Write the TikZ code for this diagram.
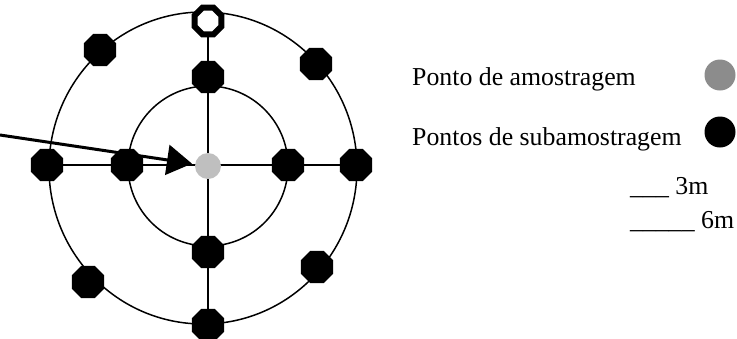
\documentclass[tikz,border=0pt]{standalone}
\usepackage{fontspec}
\setmainfont{Liberation Serif}
\usetikzlibrary{shapes.geometric,arrows.meta,backgrounds}
\begin{document}
\begin{tikzpicture}[x=1pt,y=-1pt,
  sub/.style={regular polygon,regular polygon sides=8,fill=black,minimum size=35pt,inner sep=0pt},
  ring/.style={regular polygon,regular polygon sides=8,fill=white,draw=black,line width=6pt,minimum size=29pt,inner sep=0pt},
  center/.style={circle,fill=black!25,minimum size=26pt,inner sep=0pt},
  axis/.style={line width=1.5pt},
  lbl/.style={anchor=base west,inner sep=0pt,font=\fontsize{25.8}{30}\selectfont},
  legdot/.style={circle,minimum size=31pt,inner sep=0pt}]
\useasboundingbox (0,0) rectangle (737,338);
% circles
\draw[axis] (203,168) ellipse [x radius=154, y radius=156];
\draw[axis] (208,166) circle [radius=80];
% nodes
\node[center] (c) at (208,166) {};
\node[sub] (it) at (208,77) {};
\node[sub] (ib) at (208,252) {};
\node[sub] (il) at (127,165) {};
\node[sub] (ir) at (288,165) {};
\node[sub] (ol) at (47,165) {};
\node[sub] (or) at (356,165) {};
\node[sub] (ob) at (208,325) {};
\node[ring] (ot) at (208,21) {};
\node[sub] (ul) at (100,50) {};
\node[sub] (ur) at (316,64) {};
\node[sub] (ll) at (88,282) {};
\node[sub] (lr) at (317,267) {};
\begin{scope}[on background layer]
\draw[axis] (ol) -- (il) -- (ir) -- (or);
\draw[axis] (ot) -- (it) -- (ib) -- (ob);
\end{scope}
% arrow
\coordinate (a0) at (0,135);
\draw[line width=3pt,-{Triangle[length=25pt,width=30pt]},shorten >=3pt] (a0) -- (c);
% legend
\node[lbl] (t1) at (412,85) {Ponto de amostragem};
\node[lbl] (t2) at (412,145) {Pontos de subamostragem};
\node[lbl] (t3) at (630,194) {\_\_\_ 3m};
\node[lbl] (t4) at (630,228) {\_\_\_\_\_ 6m};
\node[legdot,fill=black!45] (g1) at (720,75) {};
\node[legdot,fill=black] (g2) at (720,132) {};
\end{tikzpicture}
\end{document}
